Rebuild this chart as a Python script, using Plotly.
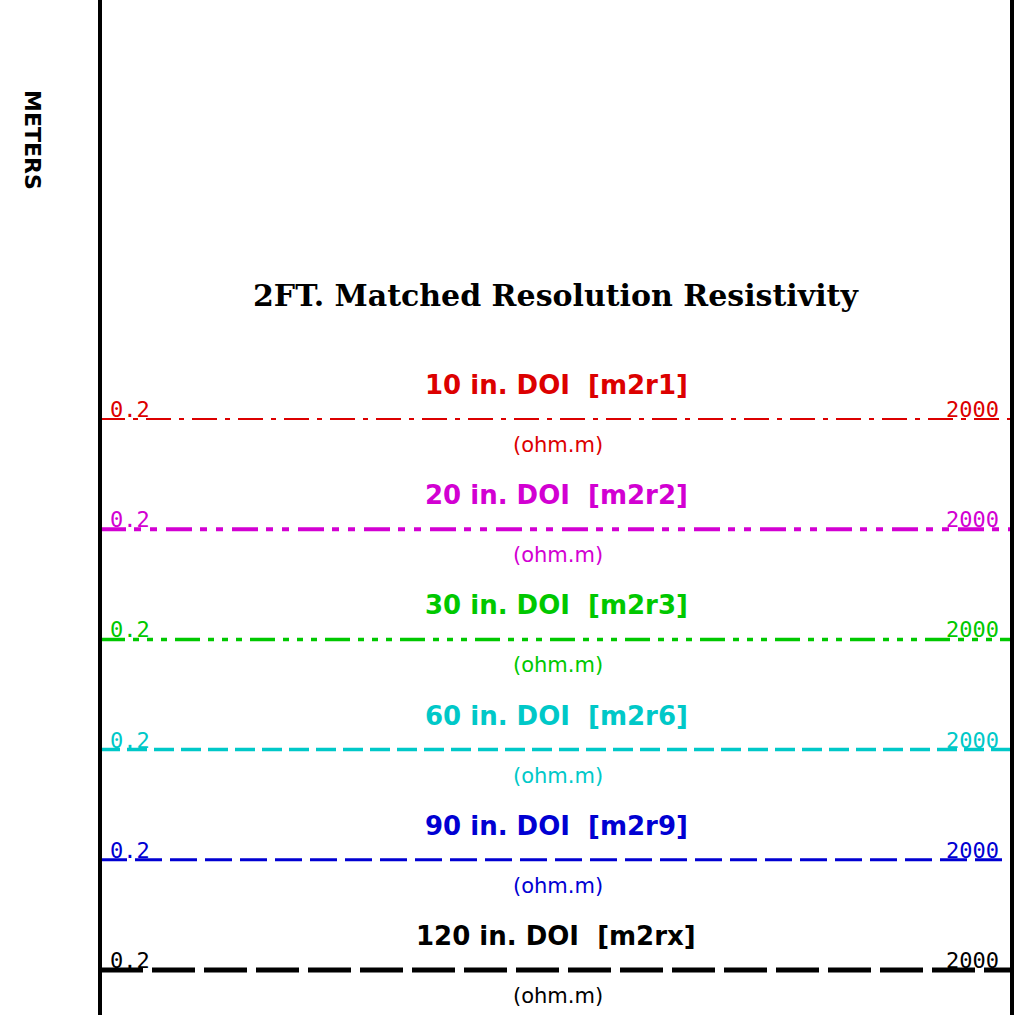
import math
import plotly.graph_objects as go

# ---- data ----
curve_titles = ["10 in. DOI  [m2r1]", "20 in. DOI  [m2r2]", "30 in. DOI  [m2r3]",
                "60 in. DOI  [m2r6]", "90 in. DOI  [m2r9]", "120 in. DOI  [m2rx]"]
units = ["(ohm.m)"] * 6
left_scale = [0.2] * 6
right_scale = [2000] * 6
track_title = "2FT. Matched Resolution Resistivity"
depth_unit = "METERS"

# ---- styles ----
colors = ["rgb(220,0,0)", "rgb(210,0,210)", "rgb(0,200,0)",
          "rgb(0,200,200)", "rgb(0,0,210)", "rgb(0,0,0)"]
dashes = ["25px,8px,5px,8px",
          "26px,8px,7px,9px,7px,9px",
          "25px,8px,6px,8px,6px,8px,6px,8px",
          "20px,7px",
          "27px,8px",
          "43px,9px"]
widths = [2, 4, 3.5, 3.5, 3, 5]

W, H = 1021, 1015
L, R = 100, 9
row0, row_gap = 419, 110.2  # pixel layout of header rows

fig = go.Figure()
for i, (t, c) in enumerate(zip(curve_titles, colors)):
    fig.add_trace(go.Scatter(
        x=[left_scale[i], right_scale[i]], y=[i, i], mode="lines",
        line=dict(color=c, width=widths[i], dash=dashes[i]),
        hoverinfo="skip", showlegend=False))
    fig.add_annotation(x=0.5, xref="paper", y=i, yref="y", text=t,
                       showarrow=False, yshift=34, xshift=0,
                       xanchor="center", yanchor="middle",
                       font=dict(family="DejaVu Sans", size=26, color=c, weight="bold"))
    fig.add_annotation(x=0.5, xref="paper", y=i, yref="y", text=units[i],
                       showarrow=False, yshift=-26, xshift=2,
                       xanchor="center", yanchor="middle",
                       font=dict(family="DejaVu Sans", size=21, color=c))
    fig.add_annotation(x=0, xref="paper", y=i, yref="y", text=str(left_scale[i]),
                       showarrow=False, xanchor="left", yanchor="bottom",
                       xshift=8, yshift=-5,
                       font=dict(family="DejaVu Sans Mono", size=22, color=c))
    fig.add_annotation(x=1, xref="paper", y=i, yref="y", text=str(right_scale[i]),
                       showarrow=False, xanchor="right", yanchor="bottom",
                       xshift=-11, yshift=-5,
                       font=dict(family="DejaVu Sans Mono", size=22, color=c))

fig.add_annotation(x=0.5, xref="paper", y=1 - 295 / H, yref="paper", text=track_title,
                   showarrow=False, xshift=0, xanchor="center", yanchor="middle",
                   font=dict(family="DejaVu Serif", size=30, color="black", weight="bold"))
fig.add_annotation(x=0, xref="paper", y=1 - 140 / H, yref="paper", text=depth_unit,
                   showarrow=False, textangle=90, xshift=-67,
                   xanchor="center", yanchor="middle",
                   font=dict(family="DejaVu Sans", size=22, color="black", weight="bold"))

for xp in (0, 1):
    fig.add_shape(type="line", xref="paper", yref="paper", x0=xp, x1=xp, y0=0, y1=1,
                  line=dict(color="black", width=4), layer="above")

ytop = -row0 / row_gap
ybot = (H - row0) / row_gap
fig.update_layout(
    width=W, height=H, margin=dict(l=L, r=R, t=0, b=0),
    paper_bgcolor="white", plot_bgcolor="white",
    xaxis=dict(type="log", range=[math.log10(0.2), math.log10(2000)],
               visible=False, fixedrange=True),
    yaxis=dict(range=[ybot, ytop], visible=False, fixedrange=True),
)
fig.write_html("out.html")
